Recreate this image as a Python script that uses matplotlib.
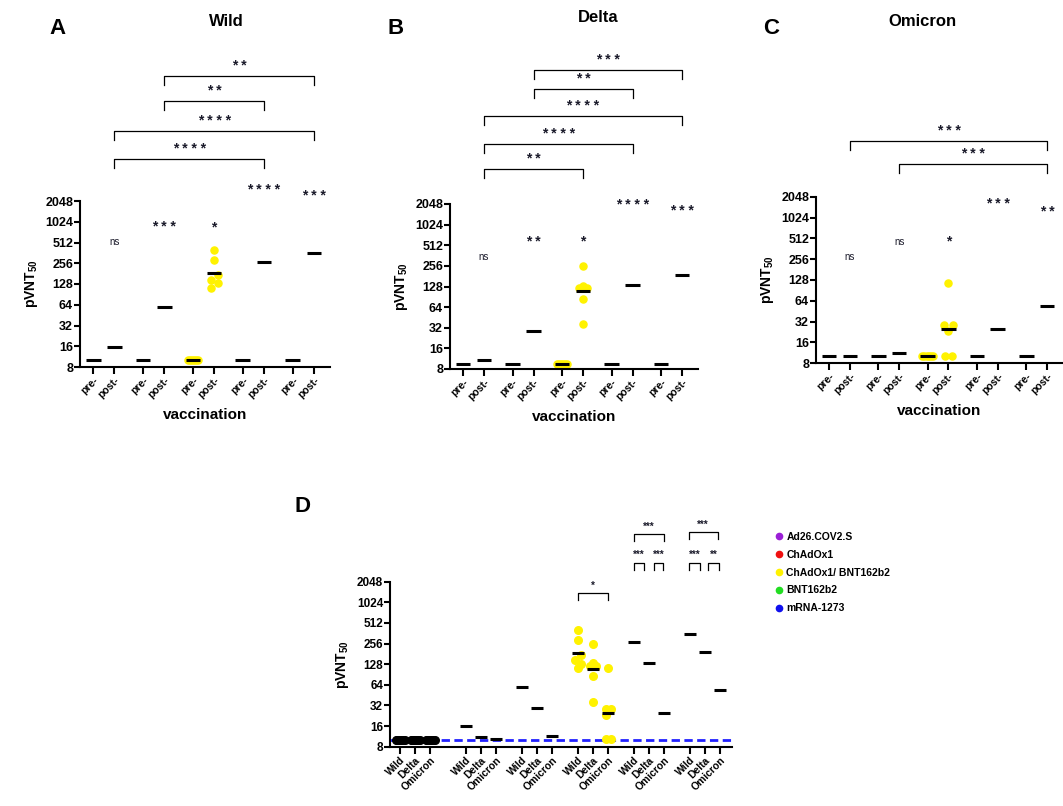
import matplotlib.pyplot as plt
import numpy as np
from matplotlib.lines import Line2D

plt.rcParams['font.family'] = ['Liberation Sans', 'DejaVu Sans']
plt.rcParams['mathtext.default'] = 'regular'
plt.rcParams['axes.linewidth'] = 1.5

vaccines = ['Ad26.COV2.S', 'ChAdOx1', 'ChAdOx1/ BNT162b2', 'BNT162b2', 'mRNA-1273']
vaccine_colors = ['#9b1fd6', '#f01010', '#fff200', '#22dd22', '#1010ee']
variants = ['Wild', 'Delta', 'Omicron']
yticks = [8, 16, 32, 64, 128, 256, 512, 1024, 2048]

# geometric mean pVNT50 per vaccine, nan = taken from the individual samples
wild_pre = [10, 10, 10, 10, 10]
wild_post = [15.8, 60, np.nan, 270, 355]
delta_pre = [9.5, 9.5, 9.5, 9.5, 9.5]
delta_post = [11, 29, np.nan, 133, 190]
omicron_pre = [10.2, 10.2, 10.2, 10.2, 10.2]
omicron_post = [10.2, 11.3, np.nan, 25, 54]

# individual ChAdOx1/ BNT162b2 samples (post-vaccination)
wild_dots = [400, 290, 172, 148, 131, 111]
delta_dots = [255, 132, 120, 120, 120, 85, 36]
omicron_dots = [114, 28.5, 28.5, 23, 10.2, 10.2]
n_pre_dots = 6
lod = 10

# significance vs pre-
wild_stars = ['ns', '* * *', '*', '* * * *', '* * *']
delta_stars = ['ns', '* *', '*', '* * * *', '* * *']
omicron_stars = ['ns', 'ns', '*', '* * *', '* *']

# comparisons between post- groups: (group a, group b, label)
wild_pairs = [(0, 3, '* * * *'), (0, 4, '* * * *'), (1, 3, '* *'), (1, 4, '* *')]
delta_pairs = [(0, 2, '* *'), (0, 3, '* * * *'), (0, 4, '* * * *'), (1, 3, '* *'), (1, 4, '* * *')]
omicron_pairs = [(0, 4, '* * *'), (1, 4, '* * *')]

# panel D comparisons: (vaccine, variant a, variant b, label)
d_pairs = [(2, 0, 2, '*'), (3, 0, 2, '***'), (3, 0, 0.67, '***'), (3, 1.33, 1.93, '***'),
           (4, -0.1, 1.85, '***'), (4, -0.07, 0.67, '***'), (4, 1.2, 1.93, '**')]

yellow = vaccine_colors[2]


def gmean(v):
    return float(np.exp(np.mean(np.log(v))))


def setup_axis(ax, ylab_x):
    ax.set_yscale('log', base=2)
    ax.set_ylim(8, 2048)
    ax.set_yticks(yticks)
    ax.set_yticklabels([str(t) for t in yticks], fontweight='bold', fontsize=9)
    ax.minorticks_off()
    ax.spines['top'].set_visible(False)
    ax.spines['right'].set_visible(False)
    ax.tick_params(axis='y', length=4, width=1.5, pad=1)
    ax.tick_params(axis='x', length=5, width=1.5, pad=1)
    ax.set_ylabel('pVNT$_{50}$', fontweight='bold', fontsize=10, va='center')
    ax.yaxis.set_label_coords(ylab_x, 0.5)


def bracket(ax, x1, x2, top, leg, label, fs, gap):
    tr = ax.get_xaxis_transform()
    ax.plot([x1, x1, x2, x2], [top - leg, top, top, top - leg], color='k', lw=0.9,
            transform=tr, clip_on=False)
    ax.text((x1 + x2) / 2, top + gap, label, transform=tr, ha='center', va='center',
            fontsize=fs, fontweight='bold', color='#1a1a2a', clip_on=False)


def draw_variant(ax, pre, post, dots, dot_off, stars, star_y, pairs, pair_y, ylab_x):
    xs = np.arange(len(vaccines)) * 2.36
    post = list(post)
    post[2] = gmean(dots)
    pre_off = np.linspace(-0.25, 0.25, n_pre_dots)
    ax.scatter(xs[2] + pre_off, [pre[2]] * n_pre_dots, s=26, color=yellow, zorder=2, clip_on=False)
    ax.scatter(xs[2] + 1 + np.array(dot_off), dots, s=26, color=yellow, zorder=2)
    ax.hlines(pre, xs - 0.35, xs + 0.35, color='k', lw=2.2, zorder=3)
    ax.hlines(post, xs + 1 - 0.35, xs + 1 + 0.35, color='k', lw=2.2, zorder=3)
    ax.set_xlim(-0.62, 11.2)
    setup_axis(ax, ylab_x)
    ticks = np.ravel([xs, xs + 1], order='F')
    ax.set_xticks(ticks)
    ax.set_xticklabels(['pre-', 'post-'] * len(vaccines), rotation=45, ha='right',
                       rotation_mode='anchor', fontweight='bold', fontsize=7.5)
    tr = ax.get_xaxis_transform()
    for g in range(len(vaccines)):
        ns = stars[g] == 'ns'
        ax.text(xs[g] + 1, star_y[g], stars[g], transform=tr, ha='center', va='center',
                fontsize=7 if ns else 10, fontweight='normal' if ns else 'bold',
                color='#1a1a2a', clip_on=False)
    for (a, b, lab), top in zip(pairs, pair_y):
        bracket(ax, xs[a] + 1, xs[b] + 1, top, 0.054, lab, 10, 0.062)
    ax.set_xlabel('vaccination', fontweight='bold', fontsize=11, va='center')
    ax.xaxis.set_label_coords(0.5, -0.29)


fig = plt.figure(figsize=(10.63, 8.06), dpi=100)
W, H = 1063, 806

ax_a = fig.add_axes([80 / W, 1 - 367 / H, 250 / W, 166 / H])
ax_b = fig.add_axes([450 / W, 1 - 369 / H, 248 / W, 165 / H])
ax_c = fig.add_axes([816 / W, 1 - 363 / H, 247 / W, 166 / H])
ax_d = fig.add_axes([390 / W, 1 - 746.7 / H, 342 / W, 165 / H])

draw_variant(ax_a, wild_pre, wild_post, wild_dots, [0, 0, 0.18, -0.15, 0.18, -0.15],
             wild_stars, [0.753, 0.843, 0.843, 1.066, 1.03],
             wild_pairs, [1.253, 1.422, 1.602, 1.753], -0.192)
draw_variant(ax_b, delta_pre, delta_post, delta_dots, [0, 0, -0.2, 0, 0.2, 0, 0],
             delta_stars, [0.679, 0.770, 0.770, 0.994, 0.958],
             delta_pairs, [1.212, 1.364, 1.533, 1.697, 1.812], -0.194)
draw_variant(ax_c, omicron_pre, omicron_post, omicron_dots, [0, -0.22, 0.22, 0, -0.18, 0.18],
             omicron_stars, [0.639, 0.729, 0.735, 0.958, 0.910],
             omicron_pairs, [1.337, 1.199], -0.198)

# panel D: all variants per vaccine
starts = np.r_[0, 4.4 + 3.733 * np.arange(len(vaccines))]
post_sets = [wild_post, delta_post, omicron_post]
dot_sets = [wild_dots, delta_dots, omicron_dots]
dot_offs = [[0, 0, 0.2, -0.2, 0.2, 0], [0, 0, -0.2, 0, 0.2, 0, 0], [0, -0.15, 0.2, -0.15, -0.15, 0.2]]
pre_off = np.linspace(-0.3, 0.3, n_pre_dots)
for v in range(len(variants)):
    ax_d.scatter(starts[0] + v + pre_off, [lod] * n_pre_dots, s=30, color='k', zorder=3, clip_on=False)
    ax_d.scatter(starts[3] + v + np.array(dot_offs[v]), dot_sets[v], s=30, color=yellow, zorder=2)
    gm = list(post_sets[v])
    gm[2] = gmean(dot_sets[v])
    xv = starts[1:] + v
    ax_d.hlines(gm, xv - 0.37, xv + 0.37, color='k', lw=2.2, zorder=3)
ax_d.axhline(lod, color='#2020ff', lw=2, ls=(0, (3, 1.6)), zorder=1)
ax_d.set_xlim(-0.667, 22.13)
setup_axis(ax_d, -0.14)
ax_d.set_yticklabels([str(t) for t in yticks], fontweight='bold', fontsize=8.5)
dticks = np.ravel([starts + v for v in range(3)], order='F')
ax_d.set_xticks(dticks)
ax_d.set_xticklabels(variants * len(starts), rotation=45, ha='right', rotation_mode='anchor',
                     fontweight='bold', fontsize=7.5)
for g, a, b, lab in d_pairs:
    top = {2: 0.930, 3: 1.289, 4: 1.301}[g]
    if b - a < 1:
        top = 1.115
    bracket(ax_d, starts[g + 1] + a, starts[g + 1] + b, top, 0.042, lab, 7, 0.045)

handles = [Line2D([], [], marker='o', ls='', color=c, markersize=4.5) for c in vaccine_colors]
fig.legend(handles, vaccines, loc='upper left', bbox_to_anchor=(776 / W, 1 - 532 / H),
           frameon=False, prop={'weight': 'bold', 'size': 7.5}, handlelength=0.5,
           handletextpad=0.5, labelspacing=0.75, borderpad=0, borderaxespad=0)

# titles and panel letters
for x, y, t in [(226, 21, 'Wild'), (598, 18, 'Delta'), (922, 22, 'Omicron')]:
    fig.text(x / W, 1 - y / H, t, ha='center', va='center', fontweight='bold', fontsize=12)
for x, y, t in [(57, 28, 'A'), (396, 28, 'B'), (771, 29, 'C'), (302, 507, 'D')]:
    fig.text(x / W, 1 - y / H, t, ha='center', va='center', fontweight='bold', fontsize=16)

fig.savefig('out.png', dpi=100)
